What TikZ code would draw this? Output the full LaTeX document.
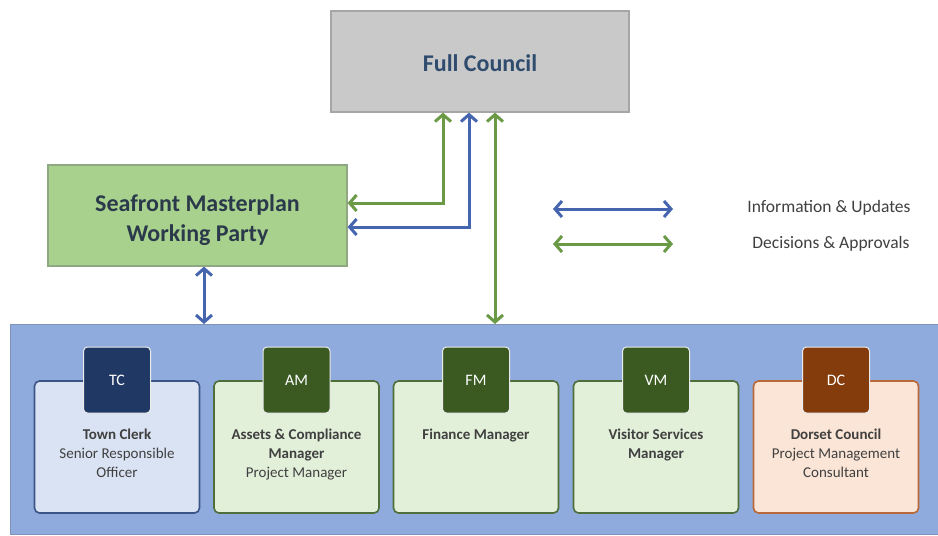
\documentclass[tikz,border=0pt]{standalone}
\usepackage{fontspec}
\setmainfont{Carlito}
\usetikzlibrary{arrows.meta,calc}
\definecolor{fcfill}{HTML}{C9C9C9}
\definecolor{fcdraw}{HTML}{A6A6A6}
\definecolor{wpfill}{HTML}{A9D18E}
\definecolor{wpdraw}{HTML}{8FA882}
\definecolor{panfill}{HTML}{8FAADC}
\definecolor{pandraw}{HTML}{7F93B8}
\definecolor{barrow}{HTML}{4565AE}
\definecolor{garrow}{HTML}{6A9A45}
\definecolor{fctext}{HTML}{2F4B6E}
\definecolor{wptext}{HTML}{2B3A4A}
\definecolor{cardtxt}{HTML}{404040}
\definecolor{tcfill}{HTML}{DAE3F3}
\definecolor{tcdraw}{HTML}{3B5486}
\definecolor{tcbadge}{HTML}{1F3864}
\definecolor{gcfill}{HTML}{E2EFD9}
\definecolor{gcdraw}{HTML}{4E6E3A}
\definecolor{gcbadge}{HTML}{3A5A22}
\definecolor{dcfill}{HTML}{FBE5D6}
\definecolor{dcdraw}{HTML}{B8693A}
\definecolor{dcbadge}{HTML}{843C0C}
\begin{document}
\begin{tikzpicture}[x=1pt,y=-1pt,
  tip/.tip={Straight Barb[length=7pt,width=16pt]},
  conn/.style={line width=3pt,tip-tip},
  bigbox/.style={draw, line width=1.2pt, inner sep=0pt, align=center},
  card/.style={draw, line width=1.6pt, rounded corners=5pt, minimum width=165pt, minimum height=132pt, inner sep=0pt},
  badge/.style={draw=white!85!gray, line width=1pt, rounded corners=4pt, minimum width=67pt, minimum height=66pt, inner sep=0pt, text=white, font=\fontsize{16}{18}\selectfont},
  cardtext/.style={anchor=north, align=center, inner sep=0pt, text=cardtxt, font=\fontsize{15}{19}\selectfont},
  legtext/.style={inner sep=0pt, text=cardtxt, font=\fontsize{17.5}{20}\selectfont}
]
\useasboundingbox (0,0) rectangle (938,536);
\fill[white] (0,0) rectangle (938,536);

% top boxes
\node[bigbox, fill=fcfill, draw=fcdraw, minimum width=298pt, minimum height=101pt] (fc) at (480,61.5) {};
\node[text=fctext, font=\bfseries\fontsize{24}{28}\selectfont, inner sep=0pt] (fct) at ([yshift=-2pt]fc.center) {Full Council};
\node[bigbox, fill=wpfill, draw=wpdraw, minimum width=299pt, minimum height=101pt] (wp) at (197.5,215.5) {};
\node[text=wptext, font=\bfseries\fontsize{24}{30}\selectfont, align=center, inner sep=0pt] (wpt) at (197.5,220) {Seafront Masterplan\\Working Party};

% panel
\node[draw=pandraw, fill=panfill, line width=1pt, minimum width=935pt, minimum height=210pt, inner sep=0pt, anchor=north west] (panel) at (10,324) {};

% cards
\node[card, fill=tcfill, draw=tcdraw] (tc) at (117,447) {};
\node[card, fill=gcfill, draw=gcdraw] (am) at (296.5,447) {};
\node[card, fill=gcfill, draw=gcdraw] (fm) at (476,447) {};
\node[card, fill=gcfill, draw=gcdraw] (vm) at (656,447) {};
\node[card, fill=dcfill, draw=dcdraw] (dc) at (836,447) {};

\node[badge, fill=tcbadge] (tcb) at (117,380) {TC};
\node[badge, fill=gcbadge] (amb) at (296.5,380) {AM};
\node[badge, fill=gcbadge] (fmb) at (476,380) {FM};
\node[badge, fill=gcbadge] (vmb) at (656,380) {VM};
\node[badge, fill=dcbadge] (dcb) at (836,380) {DC};

\node[cardtext] (tct) at (117,429) {\textbf{Town Clerk}\\Senior Responsible\\Officer};
\node[cardtext] (amt) at (296.5,429) {\textbf{Assets \& Compliance}\\\textbf{Manager}\\Project Manager};
\node[cardtext] (fmt) at (476,429) {\textbf{Finance Manager}};
\node[cardtext] (vmt) at (656,429) {\textbf{Visitor Services}\\\textbf{Manager}};
\node[cardtext] (dct) at (836,429) {\textbf{Dorset Council}\\Project Management\\Consultant};

% connectors
\draw[conn, garrow] ([xshift=-37pt]fc.south) |- (wp.east |- 0,203);
\draw[conn, barrow] ([xshift=-11pt]fc.south) |- (wp.east |- 0,227);
\draw[conn, garrow] ([xshift=15pt]fc.south) -- (panel.north -| 495,0);
\draw[conn, barrow] ([xshift=6.5pt]wp.south) -- (panel.north -| 204,0);

% legend
\coordinate (l1a) at (553,209);
\coordinate (l1b) at (673,209);
\coordinate (l2a) at (553,244);
\coordinate (l2b) at (673,244);
\draw[conn, barrow] (l1a) -- (l1b);
\draw[conn, garrow] (l2a) -- (l2b);
\node[legtext] (lt1) at (829,208) {Information \& Updates};
\node[legtext] (lt2) at (831,244) {Decisions \& Approvals};
\end{tikzpicture}
\end{document}
